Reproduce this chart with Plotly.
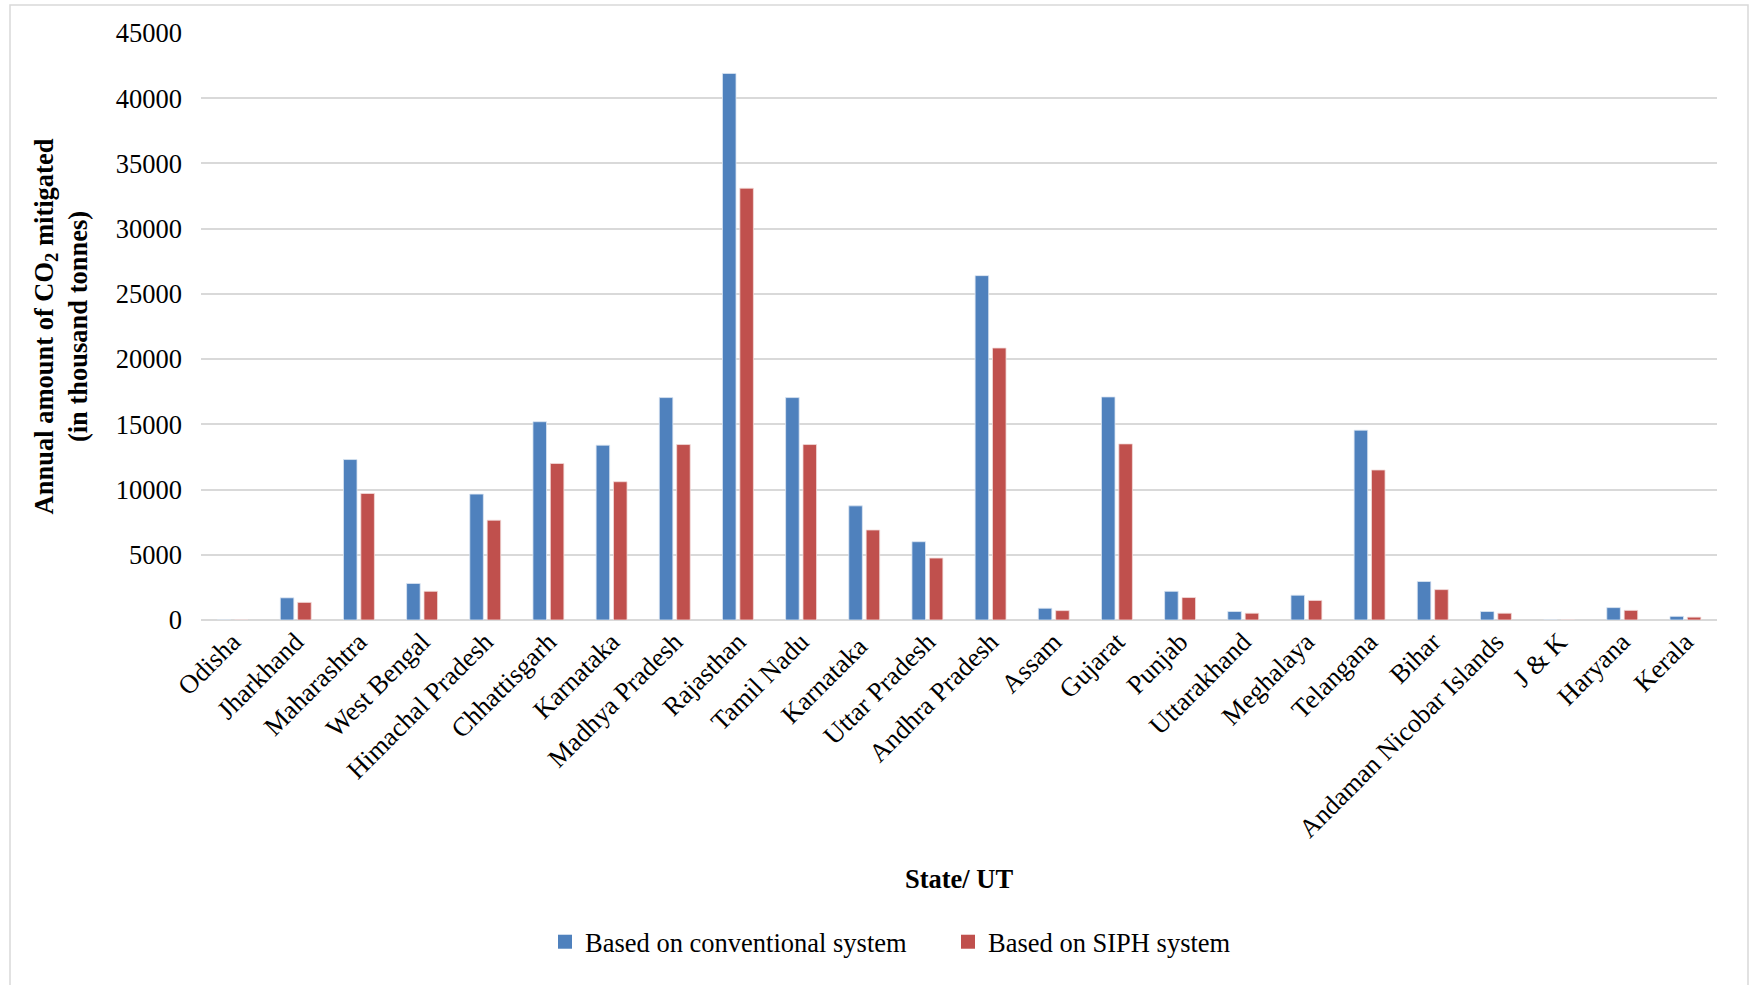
import plotly.graph_objects as go

# States / UTs on the category axis (Karnataka appears twice in the source table)
states = [
    "Odisha", "Jharkhand", "Maharashtra", "West Bengal", "Himachal Pradesh",
    "Chhattisgarh", "Karnataka", "Madhya Pradesh", "Rajasthan", "Tamil Nadu",
    "Karnataka ", "Uttar Pradesh", "Andhra Pradesh", "Assam", "Gujarat",
    "Punjab", "Uttarakhand", "Meghalaya", "Telangana", "Bihar",
    "Andaman Nicobar Islands", "J & K", "Haryana", "Kerala",
]

# Annual CO2 mitigated (thousand tonnes)
conventional = [
    0, 1700, 12300, 2800, 9650,
    15200, 13400, 17050, 41900, 17050,
    8750, 6000, 26400, 900, 17100,
    2200, 650, 1900, 14550, 2950,
    650, 0, 950, 280,
]
siph = [
    0, 1350, 9700, 2200, 7650,
    12000, 10600, 13450, 33100, 13450,
    6900, 4750, 20850, 720, 13500,
    1720, 520, 1500, 11500, 2330,
    520, 0, 740, 220,
]

series_names = ["Based on conventional system", "Based on SIPH system"]
y_ticks = [0, 5000, 10000, 15000, 20000, 25000, 30000, 35000, 40000, 45000]

BLUE = "#4F81BD"
RED = "#C0504D"
FONT = "Liberation Serif, Times New Roman, serif"
FS = 26.5

fig = go.Figure()
fig.add_trace(go.Bar(
    x=states, y=conventional, name=series_names[0], showlegend=False,
    marker=dict(color=BLUE, line=dict(color="#DCE6F2", width=0.8)),
))
fig.add_trace(go.Bar(
    x=states, y=siph, name=series_names[1], showlegend=False,
    marker=dict(color=RED, line=dict(color="#F2DCDB", width=0.8)),
))
# legend entries with square swatches
for name, col in zip(series_names, [BLUE, RED]):
    fig.add_trace(go.Scatter(
        x=[None], y=[None], mode="markers", name=name,
        marker=dict(symbol="square", size=14, color=col),
    ))

W, H = 1752, 985
L, R, T, B = 201, 35, 33, 365
pw, ph = W - L - R, H - T - B

def px_x(p):
    return (p - L) / pw

def px_y(p):
    return (H - B - p) / ph

# outer frame of the chart area
fig.add_shape(
    type="rect", xref="paper", yref="paper",
    x0=px_x(10), x1=px_x(1748), y0=px_y(995), y1=px_y(5),
    line=dict(color="#D9D9D9", width=1.5), fillcolor="rgba(0,0,0,0)",
    layer="below",
)

fig.update_layout(
    width=W, height=H,
    margin=dict(l=L, r=R, t=T, b=B),
    paper_bgcolor="white", plot_bgcolor="white",
    barmode="group", bargap=0.45, bargroupgap=0.22,
    font=dict(family=FONT, size=FS, color="black"),
    showlegend=True,
    legend=dict(
        orientation="h", x=px_x(545), xanchor="left",
        y=px_y(942), yanchor="middle",
        font=dict(family=FONT, size=FS), itemsizing="trace",
        traceorder="normal", itemwidth=30,
        entrywidth=358, entrywidthmode="pixels",
        bgcolor="rgba(0,0,0,0)",
    ),
    xaxis=dict(
        tickangle=-45, tickfont=dict(family=FONT, size=FS),
        showgrid=False, showline=False, ticks="",
        title=dict(text="<b>State/ UT</b>", font=dict(family=FONT, size=FS), standoff=26),
    ),
    yaxis=dict(
        range=[0, 45000], tickvals=y_ticks, ticktext=[str(v) for v in y_ticks],
        tickfont=dict(family=FONT, size=FS),
        showgrid=True, gridcolor="#D9D9D9", gridwidth=1.5,
        zeroline=True, zerolinecolor="#D9D9D9", zerolinewidth=1.5,
        showline=False, ticks="", ticklabelstandoff=18,
        title=dict(
            text="<b>Annual amount of CO<sub>2</sub> mitigated<br>(in thousand tonnes)</b>",
            font=dict(family=FONT, size=FS), standoff=20,
        ),
    ),
)

fig.write_html("out.html")
